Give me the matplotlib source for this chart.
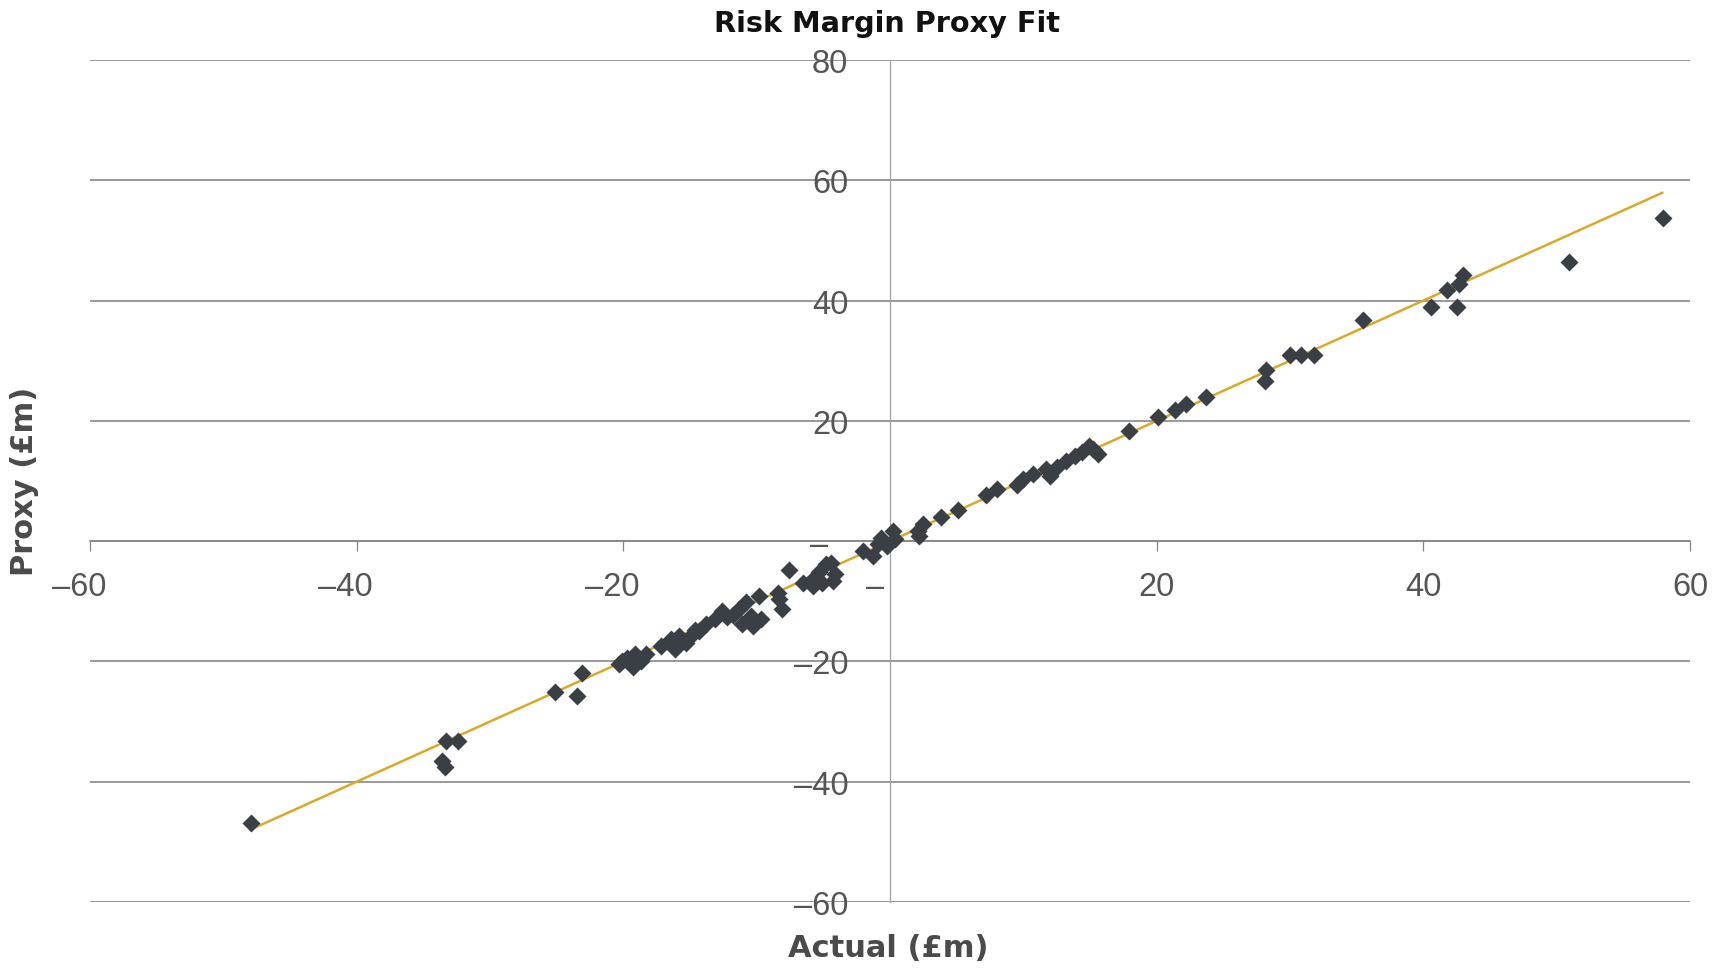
import matplotlib
matplotlib.use('Agg')
import matplotlib.pyplot as plt
from matplotlib.transforms import ScaledTranslation

# ---------------- data ----------------
actual = [-47.9, -33.3, -32.4, -33.6, -33.4, -25.1, -23.1, -23.5,
          -20.3, -19.7, -19.1, -18.7, -18.3, -19.3, -20.1,
          -17.2, -16.4, -15.8, -15.3, -14.8, -16.1, -14.3,
          -14.6, -13.8, -13.1, -12.6, -11.8, -11.3, -10.8, -9.8, -9.7, -10.4, -11.1, -10.3, -12.2,
          -8.4, -8.3, -8.1, -7.6,
          -6.5, -5.8, -5.3, -4.8, -4.4, -4.3, -5.1, -5.8, -4.1,
          -2.0, -1.3, -0.9, -0.7, -0.2, 0.2, 0.4, 2.1, 2.5, 2.2, 3.8, 5.1,
          7.2, 8.0, 9.5, 10.0, 10.7, 11.7, 12.5, 13.2, 14.4, 15.2, 15.6, 14.9, 13.9, 12.0,
          17.9, 20.1, 21.4, 22.2, 23.7, 28.1, 28.2, 30.0, 30.8, 31.8, 35.5,
          40.6, 42.5, 41.8, 42.7, 43.0, 50.9, 58.0]
proxy = [-46.8, -33.3, -33.3, -36.6, -37.6, -25.1, -22.0, -25.8,
         -20.5, -19.4, -18.8, -20.0, -18.8, -21.0, -20.0,
         -17.4, -16.3, -15.8, -16.9, -15.5, -18.0, -15.0,
         -14.7, -13.8, -13.0, -11.6, -12.2, -11.3, -10.2, -9.1, -13.0, -12.4, -13.8, -14.1, -12.6,
         -8.6, -9.7, -11.3, -4.8,
         -6.9, -6.3, -5.2, -3.8, -3.6, -6.6, -6.9, -7.5, -5.5,
         -1.6, -2.5, -0.5, 0.6, -0.8, 1.7, 0.3, 1.7, 2.8, 0.9, 4.0, 5.1,
         7.6, 8.7, 9.3, 10.4, 11.2, 12.0, 12.3, 13.4, 14.8, 15.3, 14.5, 15.9, 14.2, 10.9,
         18.3, 20.6, 21.8, 22.8, 24.0, 26.6, 28.4, 31.0, 30.9, 30.9, 36.7,
         39.0, 39.0, 41.7, 42.8, 44.3, 46.4, 53.7]

x_ticks = [-60, -40, -20, 0, 20, 40, 60]
x_tick_labels = ['–60', '–40', '–20', '–', '20', '40', '60']
y_ticks = [-60, -40, -20, 0, 20, 40, 60, 80]
y_tick_labels = ['–60', '–40', '–20', '–', '20', '40', '60', '80']

title_text = 'Risk Margin Proxy Fit'
x_label_text = 'Actual (£m)'
y_label_text = 'Proxy (£m)'

trend_slope = 1.0
trend_intercept = 0.0

# ---------------- figure ----------------
plt.rcParams['font.family'] = ['Liberation Sans', 'DejaVu Sans']

W, H = 1712, 970
fig = plt.figure(figsize=(W / 100, H / 100), dpi=100)
ax = fig.add_axes([90 / W, 1 - 903 / H, 1600 / W, 842 / H])
ax.set_xlim(-60, 60)
ax.set_ylim(-60, 80)

grid_col = '#878787'
for s in ['top', 'right']:
    ax.spines[s].set_visible(False)
ax.spines['left'].set_position(('data', 0))
ax.spines['bottom'].set_position(('data', 0))
ax.spines['left'].set_color('#a0a0a0')
ax.spines['left'].set_linewidth(0.9)
ax.spines['bottom'].set_color(grid_col)
ax.spines['bottom'].set_linewidth(1.2)

ax.set_xticks(x_ticks, x_tick_labels)
ax.set_yticks(y_ticks, y_tick_labels)
ax.yaxis.grid(True, color=grid_col, linewidth=1.2)
ax.set_axisbelow(True)
ax.tick_params(axis='x', direction='out', length=7.5, width=0.9, color=grid_col,
               pad=14, labelsize=23.5, labelcolor='#555555')
ax.tick_params(axis='y', length=0, pad=30, labelsize=23.5, labelcolor='#555555')

# small label offsets (Excel accounting-style padding)
for val, tick in zip(x_ticks, ax.xaxis.get_major_ticks()):
    lab = tick.label1
    if val < 0:
        dx = -11
    elif val == 0:
        dx = -15
    else:
        dx = 0
    if dx:
        lab.set_transform(lab.get_transform() + ScaledTranslation(dx / 100, 0, fig.dpi_scale_trans))
for val, tick in zip(y_ticks, ax.yaxis.get_major_ticks()):
    lab = tick.label1
    if val == 0:
        lab.set_transform(lab.get_transform() + ScaledTranslation(-20 / 100, 0, fig.dpi_scale_trans))

# trendline
x0, x1 = min(actual), max(actual)
ax.plot([x0, x1], [trend_slope * x0 + trend_intercept, trend_slope * x1 + trend_intercept],
        color='#d9aa28', linewidth=1.8, zorder=2, solid_capstyle='butt')
# points
ax.plot(actual, proxy, linestyle='none', marker='D', markersize=9.5,
        color='#3a3f46', markeredgecolor='none', zorder=3, clip_on=False)

# titles
fig.text(886.5 / W, 1 - 32 / H, title_text, ha='center', va='baseline',
         fontsize=20.7, fontweight='bold', family=['DejaVu Sans'], color='#111111')
fig.text(888.5 / W, 1 - 957 / H, x_label_text, ha='center', va='baseline',
         fontsize=22, fontweight='bold', family=['DejaVu Sans'], color='#4a4a4a')
fig.text(24.5 / W, 1 - 481.5 / H, y_label_text, ha='center', va='center', rotation=90,
         fontsize=22, fontweight='bold', family=['DejaVu Sans'], color='#4a4a4a')

fig.savefig('out.png', dpi=100)
